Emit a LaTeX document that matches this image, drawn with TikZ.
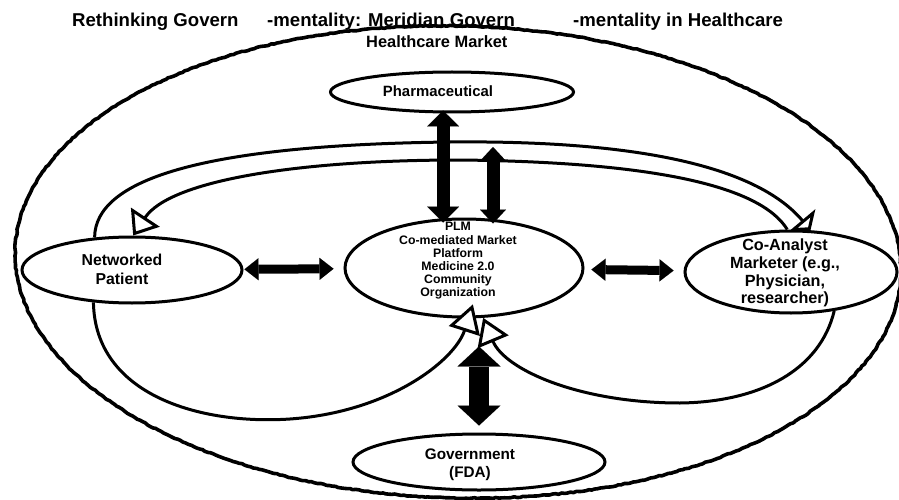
\documentclass[tikz,border=0pt]{standalone}
\usepackage{fontspec}
\setmainfont{Liberation Sans}
\usetikzlibrary{arrows.meta,shapes.geometric,calc,decorations.pathmorphing}

\tikzset{
  rim/.style={line width=3.6pt, line join=round,
    decorate, decoration={random steps, segment length=3pt, amplitude=0.5pt}},
  oval/.style 2 args={ellipse, draw, line width=3pt, inner sep=0pt,
    minimum width=#1pt, minimum height=#2pt},
  flow/.style={line width=3pt, line join=miter},
  hollow/.style 2 args={-{Triangle[length=#1pt,width=#2pt,fill=white]}},
  fat/.style n args={3}{line width=#1pt,
    arrows={Triangle[length=#3pt,width=#2pt,line width=0.01pt]-Triangle[length=#3pt,width=#2pt,line width=0.01pt]}},
  ttl/.style={font=\bfseries\fontsize{18.6}{22}\selectfont, inner sep=0pt, anchor=base west},
  lbl/.style={align=center, inner sep=0pt}
}

\begin{document}
\begin{tikzpicture}[x=1pt, y=-1pt]
  \pgfmathsetseed{7}
  \useasboundingbox (0,0) rectangle (899,500);
  \fill[white] (0,0) rectangle (899,500);

  % heading
  \node[ttl] (t1) at (72,27) {Rethinking Govern};
  \node[ttl] (t2) at (267,27) {-mentality: Meridian Govern};
  \node[ttl] (t3) at (573,27) {-mentality in Healthcare};

  % market boundary
  \draw[rim] (458,262) ellipse [x radius=443, y radius=236, rotate=-1.5];
  \node[anchor=base west, inner sep=0pt, font=\bfseries\fontsize{16.4}{19}\selectfont] (mkt) at (366,48) {Healthcare Market};

  % actors
  \node[oval={243}{40}] (pharm) at (452,92) {};
  \node[oval={238}{98}] (plm) at (464,268) {};
  \node[oval={220}{66}] (np) at (132,270) {};
  \node[oval={212}{82}] (ca) at (791,272) {};
  \node[oval={252}{56}] (gov) at (479,462) {};

  \node[lbl, font=\bfseries\fontsize{14.9}{17}\selectfont] (pharm-t) at (438,91) {Pharmaceutical};
  \node[lbl, font=\bfseries\fontsize{12.3}{13.2}\selectfont] (plm-t) at (458,261)
    {PLM\\Co-mediated Market\\Platform\\Medicine 2.0\\Community\\Organization};
  \node[lbl, font=\bfseries\fontsize{15.8}{19}\selectfont] (np-t) at (122,269) {Networked\\Patient};
  \node[lbl, font=\bfseries\fontsize{16.2}{17.7}\selectfont] (ca-t) at (785,273)
    {Co-Analyst\\Marketer (e.g.,\\Physician,\\researcher)};
  \node[lbl, font=\bfseries\fontsize{15.3}{18}\selectfont] (gov-t) at (470,465) {Government\\(FDA)};

  % feedback loops
  \draw[flow, hollow={13}{34}] (np.139) .. controls (95,180) and (200,145) .. (450,142)
    .. controls (650,140) and (760,170) .. (ca.65);
  \draw[flow, hollow={22}{34}] (ca.95) .. controls (760,185) and (650,162) .. (460,160)
    .. controls (300,160) and (170,180) .. (np.88);
  \draw[flow, hollow={28}{32}] (np.220) .. controls (95,395) and (200,425) .. (290,419)
    .. controls (390,412) and (455,360) .. ([yshift=14pt]plm.-80);
  \draw[flow, hollow={26}{33}] (ca.-42) .. controls (820,370) and (760,402) .. (680,403)
    .. controls (580,403) and (505,370) .. (plm.-69);

  % two-way exchanges
  \coordinate (lift) at (493,147);
  \draw[fat={13}{32}{16}] ($(pharm.south)+(-9,-3)$) -- ($(plm.north)+(-21,5)$);
  \draw[fat={13}{26}{14}] (lift) -- ($(plm.north)+(29,6)$);
  \draw[fat={9}{22}{14}, shorten <=1pt, shorten >=10pt] (np) -- (plm);
  \draw[fat={9}{22}{14}, shorten <=7pt, shorten >=10pt] (plm) -- (ca);
  \draw[fat={20}{43}{20}] ($(gov.north)+(0,-7)$) -- ($(gov.north |- plm.south)+(0,28)$);
\end{tikzpicture}
\end{document}
